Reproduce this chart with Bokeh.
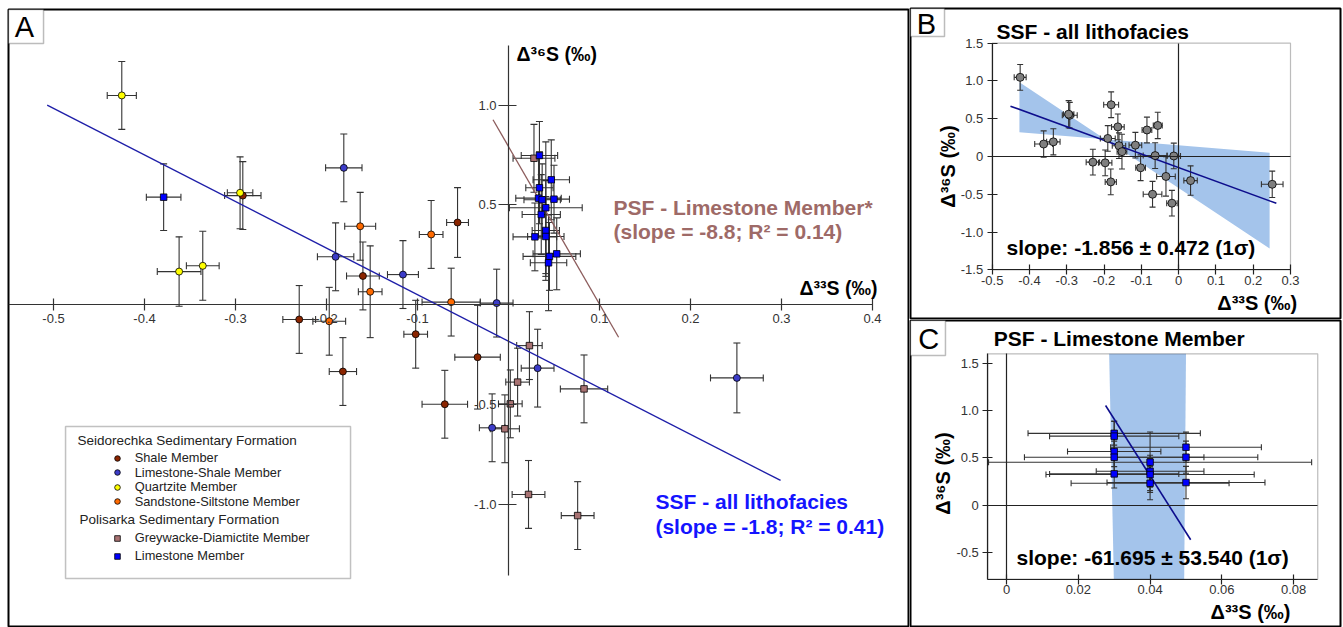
from math import pi
from bokeh.plotting import figure
from bokeh.models import (Range1d, LinearAxis, FixedTicker, PrintfTickFormatter, Whisker, TeeHead,
                          ColumnDataSource, Label, BoxAnnotation, Legend, LegendItem)
from bokeh.layouts import row, column
from bokeh.core.properties import value
from bokeh.embed import file_html
from bokeh.resources import INLINE

FONT = "Liberation Sans"

# ---------------- data ----------------
# Seidorechka Sedimentary Formation (SSF)
shale_x = [-0.292, -0.160, -0.230, -0.182, -0.102, -0.070, -0.034, -0.056]
shale_y = [0.546, 0.143, -0.075, -0.336, -0.149, -0.500, -0.264, 0.411]
shale_xe = [0.020, 0.018, 0.018, 0.015, 0.013, 0.025, 0.025, 0.012]
shale_ye = [0.17, 0.17, 0.17, 0.17, 0.17, 0.17, 0.26, 0.175]

lsh_x = [-0.181, -0.190, -0.116, -0.013, 0.032, -0.018, 0.251]
lsh_y = [0.685, 0.239, 0.150, 0.007, -0.319, -0.618, -0.368]
lsh_xe = [0.020, 0.020, 0.017, 0.018, 0.018, 0.014, 0.029]
lsh_ye = [0.17, 0.17, 0.17, 0.17, 0.195, 0.17, 0.175]

qtz_x = [-0.425, -0.295, -0.362, -0.336]
qtz_y = [1.048, 0.560, 0.165, 0.194]
qtz_xe = [0.016, 0.014, 0.024, 0.018]
qtz_ye = [0.17, 0.18, 0.174, 0.173]

sst_x = [-0.163, -0.085, -0.152, -0.197, -0.063]
sst_y = [0.392, 0.351, 0.064, -0.084, 0.012]
sst_xe = [0.017, 0.013, 0.013, 0.018, 0.032]
sst_ye = [0.17, 0.17, 0.23, 0.17, 0.17]

# Polisarka Sedimentary Formation (PSF)
gwk_x = [0.023, 0.010, 0.083, 0.002, -0.004, 0.022, 0.076, 0.028]
gwk_y = [-0.206, -0.389, -0.423, -0.498, -0.623, -0.952, -1.058, 0.733]
gwk_xe = [0.014, 0.013, 0.026, 0.013, 0.016, 0.018, 0.018, 0.023]
gwk_ye = [0.17, 0.17, 0.17, 0.17, 0.17, 0.17, 0.17, 0.17]

lst_x = [-0.379, 0.034, 0.047, 0.034, 0.033, 0.037, 0.050, 0.041, 0.036, 0.041, 0.029, 0.041, 0.053, 0.045, 0.044]
lst_y = [0.538, 0.747, 0.625, 0.585, 0.533, 0.525, 0.528, 0.485, 0.451, 0.371, 0.339, 0.341, 0.254, 0.241, 0.209]
lst_xe = [0.019, 0.020, 0.020, 0.015, 0.025, 0.020, 0.017, 0.040, 0.021, 0.015, 0.024, 0.020, 0.026, 0.029, 0.020]
lst_ye = [0.167, 0.17, 0.20, 0.18, 0.20, 0.18, 0.17, 0.33, 0.20, 0.25, 0.17, 0.20, 0.18, 0.17, 0.24]

# regression lines in panel A
ssf_fit_x = [-0.507, 0.299]
ssf_fit_y = [0.999, -0.882]
psf_fit_x = [-0.017, 0.121]
psf_fit_y = [0.926, -0.164]

# panel B: regression and 1-sigma band
b_fit_x = [-0.451, 0.262]
b_fit_y = [0.666, -0.620]
b_band_x = [-0.427, -0.197, 0.244, 0.244, -0.197, -0.427]
b_band_y = [0.984, 0.229, 0.049, -1.219, 0.229, 0.322]

# panel C: PSF limestone member
c_x = [0.03, 0.03, 0.03, 0.03, 0.03, 0.04, 0.04, 0.04, 0.04, 0.05, 0.05, 0.05]
c_y = [0.76, 0.73, 0.567, 0.507, 0.33, 0.454, 0.358, 0.323, 0.231, 0.613, 0.507, 0.238]
c_xe = [0.024, 0.018, 0.013, 0.025, 0.018, 0.045, 0.015, 0.029, 0.022, 0.021, 0.020, 0.022]
c_ye = [0.125, 0.16, 0.16, 0.17, 0.15, 0.32, 0.17, 0.17, 0.176, 0.16, 0.17, 0.172]
c_fit_x = [0.0276, 0.0513]
c_fit_y = [1.055, -0.369]
c_band_x = [0.0286, 0.0500, 0.0495, 0.0299]
c_band_y = [1.603, 1.603, -0.787, -0.787]

# ticks
a_xticks = [-0.5, -0.4, -0.3, -0.2, -0.1, 0.1, 0.2, 0.3, 0.4]
a_yticks = [-1.0, -0.5, 0.5, 1.0]
b_xticks = [-0.5, -0.4, -0.3, -0.2, -0.1, 0, 0.1, 0.2, 0.3]
b_yticks = [-1.5, -1.0, -0.5, 0, 0.5, 1.0, 1.5]
c_xticks = [0, 0.02, 0.04, 0.06, 0.08]
c_yticks = [-0.5, 0, 0.5, 1.0, 1.5]

# colours
C_SHALE = "#8B2500"
C_LSH = "#3C3CC8"
C_QTZ = "#FFFF00"
C_SST = "#FF6A00"
C_GWK = "#A87272"
C_LST = "#0000FF"
C_BAND = "#A4C4EB"


# ---------------- helpers ----------------
def mkfig(w, h, xr, yr, mb):
    p = figure(width=w, height=h, x_range=Range1d(*xr), y_range=Range1d(*yr),
               x_axis_type=None, y_axis_type=None, toolbar_location=None,
               output_backend="svg", min_border_left=mb[0], min_border_right=mb[1],
               min_border_top=mb[2], min_border_bottom=mb[3],
               outline_line_color="black", outline_line_width=2)
    p.background_fill_color = "white"
    p.border_fill_color = "white"
    return p


def errpoints(p, xs, ys, xe, ye, marker, color, size, cap=7, ecol="#333333", ew=1.1):
    src = ColumnDataSource(dict(
        x=xs, y=ys,
        xl=[a - e for a, e in zip(xs, xe)], xu=[a + e for a, e in zip(xs, xe)],
        yl=[a - e for a, e in zip(ys, ye)], yu=[a + e for a, e in zip(ys, ye)]))
    for dim, base, lo, up in (("height", "x", "yl", "yu"), ("width", "y", "xl", "xu")):
        p.add_layout(Whisker(source=src, base=base, lower=lo, upper=up, dimension=dim,
                             level="underlay", line_color=ecol, line_width=ew,
                             lower_head=TeeHead(size=cap, line_color=ecol, line_width=ew),
                             upper_head=TeeHead(size=cap, line_color=ecol, line_width=ew)))
    return p.scatter("x", "y", source=src, marker=marker, size=size, fill_color=color,
                     line_color="black", line_width=0.8)


def axis(p, side, loc, bounds, ticks, fmt, tin, tout, standoff, overrides=None,
         color="#333333", lw=1.2):
    ax = LinearAxis(fixed_location=loc, bounds=bounds,
                    ticker=FixedTicker(ticks=ticks, minor_ticks=[]),
                    formatter=PrintfTickFormatter(format=fmt),
                    major_tick_in=tin, major_tick_out=tout,
                    minor_tick_line_color=None, axis_line_color=color, axis_line_width=lw,
                    major_tick_line_color=color, major_tick_line_width=lw,
                    major_label_text_font=FONT, major_label_text_font_size="13px",
                    major_label_text_color="#333333", major_label_standoff=standoff)
    if overrides:
        ax.major_label_overrides = overrides
    p.add_layout(ax, side)
    return ax


def lab(p, x, y, text, size, bold=False, color="black", align="left", angle=0.0):
    p.add_layout(Label(x=x, y=y, text=text, text_font=FONT, text_font_size=size,
                       text_font_style="bold" if bold else "normal", text_color=color,
                       text_align=align, text_baseline="middle", angle=angle))


def cornerbox(p, left, right, top, bottom, letter, lx, ly):
    p.add_layout(BoxAnnotation(left=left, right=right, top=top, bottom=bottom,
                               fill_color="white", fill_alpha=1, line_color="#222222",
                               line_width=1.5))
    lab(p, lx, ly, letter, "29px", align="center")


# ---------------- panel A ----------------
# frame: page x 8..908, y 9..626
pA = mkfig(909, 627, (-0.5495, 0.4396), (-1.614, 1.4787), (8, 1, 9, 1))
axis(pA, "below", 0, (-0.56, 0.40), a_xticks, "%.1f", 6, 6, 3)
axis(pA, "left", 0, (-1.36, 1.30), a_yticks, "%.1f", 8, 10, 2)

pA.line(ssf_fit_x, ssf_fit_y, line_color="#1E1EA8", line_width=1.4)
pA.line(psf_fit_x, psf_fit_y, line_color="#8C5C5C", line_width=1.3)

r_gwk = errpoints(pA, gwk_x, gwk_y, gwk_xe, gwk_ye, "square", C_GWK, 6.5)
r_lst = errpoints(pA, lst_x, lst_y, lst_xe, lst_ye, "square", C_LST, 6.5)
r_shale = errpoints(pA, shale_x, shale_y, shale_xe, shale_ye, "circle", C_SHALE, 7)
r_lsh = errpoints(pA, lsh_x, lsh_y, lsh_xe, lsh_ye, "circle", C_LSH, 7)
r_qtz = errpoints(pA, qtz_x, qtz_y, qtz_xe, qtz_ye, "circle", C_QTZ, 7)
r_sst = errpoints(pA, sst_x, sst_y, sst_xe, sst_ye, "circle", C_SST, 7)

lab(pA, 0.0088, 1.258, "Δ³⁶S (‰)", "19.5px", bold=True)
lab(pA, 0.3198, 0.0852, "Δ³³S (‰)", "19.5px", bold=True)
lab(pA, 0.1154, 0.4877, "PSF - Limestone Member*", "21px", bold=True, color="#9E6A67")
lab(pA, 0.1154, 0.366, "(slope = -8.8; R² = 0.14)", "21px", bold=True, color="#9E6A67")
lab(pA, 0.1615, -0.9875, "SSF - all lithofacies", "21px", bold=True, color="#1414FF")
lab(pA, 0.1615, -1.1128, "(slope = -1.8; R² = 0.41)", "21px", bold=True, color="#1414FF")

# legend frame, headers and one single-row legend per entry
pA.add_layout(BoxAnnotation(left=-0.4868, right=-0.1736, top=-0.6115, bottom=-1.373,
                            fill_alpha=0, line_color="#333333", line_width=1.5))
lab(pA, -0.4736, -0.682, "Seidorechka Sedimentary Formation", "13.5px", color="#222222")
lab(pA, -0.4714, -1.079, "Polisarka Sedimentary Formation", "13.5px", color="#222222")

leg_entries = [("Shale Member", r_shale, 458.0), ("Limestone-Shale Member", r_lsh, 472.5),
               ("Quartzite Member", r_qtz, 487.0), ("Sandstone-Siltstone Member", r_sst, 501.5),
               ("Greywacke-Diamictite Member", r_gwk, 538.0), ("Limestone Member", r_lst, 556.0)]
for name, rend, cy in leg_entries:
    # cy: row centre in page pixels; frame bottom is at page y 626, frame left at 8
    pA.add_layout(Legend(items=[LegendItem(label=value(name), renderers=[rend])],
                         location=(101.7, 626 - cy - 7), border_line_color=None,
                         background_fill_alpha=0, padding=0, margin=0, spacing=0,
                         glyph_width=14, glyph_height=14, label_height=14, label_standoff=11,
                         label_text_font=FONT, label_text_font_size="12.8px",
                         label_text_color="#222222"))

cornerbox(pA, -0.5495, -0.511, 1.4787, 1.308, "A", -0.5319, 1.393)

# ---------------- panel B ----------------
# frame: page x 910..1340, y 8..318
pB = mkfig(434, 319, (-0.7191, 0.4341), (-2.1448, 1.9594), (1, 3, 8, 1))
pB.patch(b_band_x, b_band_y, fill_color=C_BAND, line_color=None, level="underlay")
axis(pB, "left", -0.5, (-1.5, 1.5), b_yticks, "%.1f", 5, 5, 4, overrides={0: "0"}, color="#222222")
axis(pB, "below", -1.5, (-0.5, 0.3), b_xticks, "%.1f", 5, 5, 1, overrides={0: "0"}, color="#222222")
axis(pB, "left", 0, (-1.5, 1.5), [], "%.1f", 0, 0, 0, color="#222222")
axis(pB, "below", 0, (-0.5, 0.3), [], "%.1f", 0, 0, 0, color="#222222")
pB.add_layout(BoxAnnotation(left=-0.5, right=0.3, top=1.5, bottom=-1.5, fill_alpha=0,
                            line_color="#222222", line_width=1.2))
pB.line(b_fit_x, b_fit_y, line_color="#0D0D8C", line_width=1.6)
all_x = shale_x + lsh_x + qtz_x + sst_x
all_y = shale_y + lsh_y + qtz_y + sst_y
all_xe = shale_xe + lsh_xe + qtz_xe + sst_xe
all_ye = shale_ye + lsh_ye + qtz_ye + sst_ye
errpoints(pB, all_x, all_y, all_xe, all_ye, "circle", "#7F7F7F", 8, cap=6)

lab(pB, -0.4885, 1.655, "SSF - all lithofacies", "21px", bold=True)
lab(pB, -0.6172, -0.1325, "Δ³⁶S (‰)", "20px", bold=True, align="center", angle=pi / 2)
lab(pB, 0.3179, -1.946, "Δ³³S (‰)", "20px", bold=True, align="right")
lab(pB, -0.4616, -1.2015, "slope: -1.856 ± 0.472 (1σ)", "21px", bold=True)
cornerbox(pB, -0.7191, -0.6279, 1.9594, 1.5887, "B", -0.6762, 1.7476)

# ---------------- panel C ----------------
# frame: page x 910..1340, y 320..627
pC = mkfig(434, 308, (-0.02674, 0.09304), (-1.299, 1.9565), (1, 3, 1, 0))
pC.patch(c_band_x, c_band_y, fill_color=C_BAND, line_color=None, level="underlay")
axis(pC, "left", -0.0052, (-0.787, 1.603), c_yticks, "%.1f", 5, 5, 4, overrides={0: "0"}, color="#222222")
axis(pC, "below", -0.787, (-0.0052, 0.0867), c_xticks, "%.2f", 5, 5, 1, overrides={0: "0"}, color="#222222")
axis(pC, "left", 0, (-0.787, 1.603), [], "%.1f", 0, 0, 0, color="#222222")
axis(pC, "below", 0, (-0.0052, 0.0867), [], "%.1f", 0, 0, 0, color="#222222")
pC.add_layout(BoxAnnotation(left=-0.0052, right=0.0867, top=1.603, bottom=-0.787, fill_alpha=0,
                            line_color="#222222", line_width=1.2))
pC.line(c_fit_x, c_fit_y, line_color="#0D0D8C", line_width=1.6)
errpoints(pC, c_x, c_y, c_xe, c_ye, "square", C_LST, 6.5, cap=6)

lab(pC, -0.003538, 1.7656, "PSF - Limestone Member", "21px", bold=True)
lab(pC, -0.01755, 0.334, "Δ³⁶S (‰)", "20px", bold=True, align="center", angle=pi / 2)
lab(pC, 0.07911, -1.1368, "Δ³³S (‰)", "20px", bold=True, align="right")
lab(pC, 0.002786, -0.5567, "slope: -61.695 ± 53.540 (1σ)", "21px", bold=True)
cornerbox(pC, -0.02674, -0.017, 1.9565, 1.5854, "C", -0.02164, 1.7625)

layout = row(pA, column(pB, pC))
open("out.html", "w").write(file_html(layout, INLINE))
